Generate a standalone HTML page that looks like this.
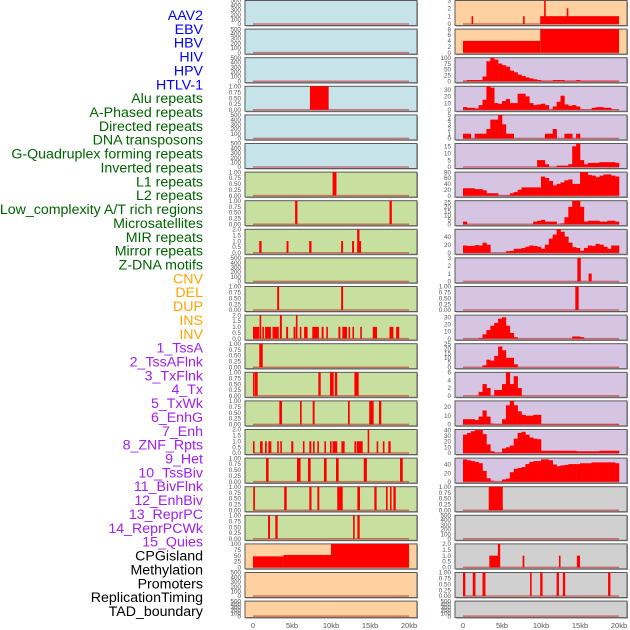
<!DOCTYPE html>
<html><head><meta charset="utf-8"><style>
html,body{margin:0;padding:0;background:#fff;width:630px;height:630px;overflow:hidden}
svg{display:block}
</style></head><body>
<svg id="chart" width="630" height="630" xmlns="http://www.w3.org/2000/svg"></svg>
<script>
// ---- labels ----
const trackLabels=["AAV2","EBV","HBV","HIV","HPV","HTLV-1","Alu repeats","A-Phased repeats","Directed repeats","DNA transposons","G-Quadruplex forming repeats","Inverted repeats","L1 repeats","L2 repeats","Low_complexity A/T rich regions","Microsatellites","MIR repeats","Mirror repeats","Z-DNA motifs","CNV","DEL","DUP","INS","INV","1_TssA","2_TssAFlnk","3_TxFlnk","4_Tx","5_TxWk","6_EnhG","7_Enh","8_ZNF_Rpts","9_Het","10_TssBiv","11_BivFlnk","12_EnhBiv","13_ReprPC","14_ReprPCWk","15_Quies","CPGisland","Methylation","Promoters","ReplicationTiming","TAD_boundary"];
const labelGroups=[0,0,0,0,0,0,1,1,1,1,1,1,1,1,1,1,1,1,1,2,2,2,2,2,3,3,3,3,3,3,3,3,3,3,3,3,3,3,3,4,4,4,4,4];
const xTickLabels=["0","5kb","10kb","15kb","20kb"];
const xTickValues=[0,5,10,15,20];
// ---- panel axes ----
const T500=[0,100,200,300,400,500],T1=[0,0.25,0.5,0.75,1],T2=[0,0.5,1,1.5,2];
const leftTicks=[T500,T500,T500,T1,T500,T500,T1,T1,T2,T500,T1,T2,T1,T1,T1,T2,T1,T1,T1,[0,25,50,75,100],T500,T500];
const leftMax=[500,500,500,1,500,500,1,1,2,500,1,2,1,1,1,2,1,1,1,100,500,500];
const rightTicks=[[0,1,2,3],[0,2,4,6,8],[0,25,50,75,100],[0,10,20,30],[0,1,2,3,4,5],[0,5,10,15],[0,20,40,60,80],[0,5,10,15,20,25],[0,20,40],[0,1,2,3],T1,[0,10,20,30],[0,5,10,15,20,25],[0,2,4,6],[0,10,20],[0,10,20,30,40],[0,20,40],T1,T500,T2,T1,T500];
const rightMax=[3,8,100,35,5,17,80,27,58,3,1,33,25,6,27,41,55,1,500,2,1,500];
// ---- left series: segments [startKb,endKb,value] ----
const leftSegs=[
[],[],[],
[[7.3,9.7,1]],
[],[],
[[10.2,10.7,1]],
[[5.4,5.7,1],[17.5,17.8,1]],
[[0.8,1.1,1],[4.3,4.55,1],[7.2,7.5,1],[11.3,11.55,1],[12.7,12.95,1],[13.35,13.65,2],[13.65,13.8,1]],
[],
[[3.1,3.35,1],[11.3,11.55,1]],
[[0,0.8,1],[0.85,1.05,2],[1.2,1.4,1],[1.55,2.3,1],[2.5,3.3,1],[3.45,3.7,2],[4.25,4.5,1],[5.2,5.45,1],[5.5,5.7,2],[6.0,6.2,1],[6.55,7.0,1],[7.6,8.45,1],[8.8,9.05,1],[9.4,9.6,1],[10.95,11.2,1],[11.45,12.05,1],[12.25,12.45,1],[12.75,12.95,1],[13.75,13.95,1],[15.35,15.9,1],[17.5,18.0,1],[18.35,18.75,1]],
[[0.8,1.25,1]],
[[0,0.15,1],[0.25,0.6,1],[8.38,8.68,1],[9.87,10.34,1],[10.5,10.8,1],[13.0,13.55,1]],
[[3.38,3.72,1],[6.03,6.24,1],[7.65,7.9,1],[12.18,12.4,1],[14.9,15.47,1],[16.15,16.45,1]],
[[0,0.2,1],[0.9,1.24,1],[1.54,1.76,1],[1.97,2.35,1],[3.1,3.3,1],[3.5,3.7,1],[4.9,5.17,1],[6.4,6.6,1],[7.22,7.48,1],[7.7,7.9,1],[8.25,8.45,1],[9.15,9.35,1],[9.87,9.96,1],[10.2,10.8,1],[11.33,11.75,1],[13.0,13.2,1],[13.29,14.06,1],[14.7,14.9,2],[15.85,16.05,1],[16.65,16.85,1],[17.35,17.65,1]],
[[1.67,2.0,1],[5.64,6.1,1],[7.05,7.39,1],[9.1,9.44,1],[10.64,10.98,1],[14.2,14.6,1],[18.85,19.2,1]],
[[0.03,0.25,1],[4.0,4.32,1],[7.22,7.5,1],[8.25,8.5,1],[10.8,11.5,1],[13.38,13.72,1],[15.56,15.85,1],[17.05,17.26,1],[17.56,17.74,1],[18.0,18.3,1]],
[[1.93,2.18,1],[2.86,3.16,1],[12.83,13.04,1],[13.38,13.68,1]],
[[0,3.9,47],[3.9,10,53],[10,20,100]],
[],[]
];
// ---- right series: 0.5kb bins (arrays of 40) or segments ----
const rightSegs=[
[[1.1,1.3,1],[7.7,7.9,1],[9.9,20,1],[10.4,10.6,3],[13.3,13.5,2]],
[[0,9.9,4],[9.9,20,8]],
null,null,null,null,null,null,null,
[[14.66,15.1,3],[16.1,16.5,1]],
[[14.4,14.83,1]],
null,null,null,null,null,null,
[[3.3,5.1,1]],
[],
[[3.37,4.5,1],[4.47,4.77,2],[7.64,7.86,1],[12.3,12.5,1],[14.6,15.0,1]],
[[0,0.3,1],[1.25,1.6,1],[2.5,2.88,1],[8.6,8.8,1],[9.9,10.2,1],[12.0,12.3,1],[12.8,13.1,1],[18.6,18.9,1]],
[]
];
const hivBins=[2,5,5,5,5,20,85,100,92,75,68,62,45,38,28,22,16,12,8,5,2,2,2,5,5,5,2,2,2,5,2,2,2,2,2,2,2,2,2,2];
const hpvBins=[4,3,3,2,7,15,35,33,10,9,13,16,10,10,24,24,20,10,7,8,9,7,0.5,5,12,21,8,6,7,5,0.5,0.5,0.5,3,4,4,3,3,0.5,0.5];
const dirBins=[1,1,0,1,1,1,2,4,4,5,3,1,1,0,0,0,0,0,0,0,0,1,1,2,0,0,1,1,0,1,0,0,0,0,0,0,0,0,0,0];
const gquadBins=[0,0,0,0,0,0,0,0,0,0,0,0,0,0,0,0,0,0,0,5,5,2,0,0,1,1,1,2,15,17,5,2,3,3,3,3.5,3.5,3.5,3.5,3];
const l1Bins=[25,25,25,22,22,18,8,8,8,1,1,1,8,12,20,28,28,28,28,28,65,60,50,35,40,45,52,55,40,40,80,80,70,68,63,68,72,72,68,65];
const lowcBins=[3,0,0,0,0,0,0,0,0,0,0,0,0,0,0,0,0,0,3,4,5,3,3,3,0,1,8,20,27,27,20,3,4,4,4,3,3,4,4,3];
const mirBins=[18,17,17,19,18,25,20,0,0,0,0,4,5,10,10,12,15,18,17,15,10,20,35,45,58,52,40,25,14,12,5,12,18,17,22,20,15,10,18,18];
const insBins=[0,0,0,0,1,6,12,18,22,28,30,18,8,2,0,0,0,0,0,0,0,0,0,0,0,0,0,0,3,3,2,0,0,0,0,0,0,0,0,0];
const tssaBins=[0,0,0,0,0,2,8,7,12,22,18,10,10,3,0,0,0,0,0,0,0,0,0,0,0,0,0,0,0,0,0,0,0,0,0,0,0,0,0,0];
const txflnkBins=[0,0,0,0,1,3,2,0,1.5,1.5,3,6,3,5,2,0,0,0,0,0,0,0,0,0,0,0,0,0,0,0,0,0,0,0,0,0,0,0,0,0];
const txwkBins=[6,6,6,5,9,16,9,1,0.5,0.5,6,22,27,22,15,11,10,10,11,11,0.5,0.5,0.5,0.5,0.5,0.5,0.5,0.5,0.5,0.5,0.5,0.5,0.5,0.5,0.5,0.5,0.5,0.5,0.5,0.5];
const enhgBins=[32,35,38,40,40,33,15,3,1,1,8,10,13,25,35,37,32,27,25,24,4,4,4,4,4,4,4,4,4,3,3,3,3,3,3,4,4,4,4,4];
const enhBins=[52,50,48,46,43,25,8,2,0.5,0.5,5,7,22,30,32,34,41,46,48,48,52,52,50,40,36,38,39,41,41,41,43,43,43,45,45,45,45,45,45,43];
const rightBins=[null,null,hivBins,hpvBins,dirBins,gquadBins,l1Bins,lowcBins,mirBins,null,null,insBins,tssaBins,txflnkBins,txwkBins,enhgBins,enhBins,null,null,null,null,null];
// ---- colors ----
const BLUE="#c7e3ea",GREEN="#c8e09f",PEACH="#ffd1a0",LAV="#d6c5e2",GREY="#d0d0d0";
const leftBg=[BLUE,BLUE,BLUE,BLUE,BLUE,BLUE,GREEN,GREEN,GREEN,GREEN,GREEN,GREEN,GREEN,GREEN,GREEN,GREEN,GREEN,GREEN,GREEN,PEACH,PEACH,PEACH];
const rightBg=[PEACH,PEACH,LAV,LAV,LAV,LAV,LAV,LAV,LAV,LAV,LAV,LAV,LAV,LAV,LAV,LAV,LAV,GREY,GREY,GREY,GREY,GREY];
const groupColors=["#0000ff","#006400","#ffa500","#a020f0","#000000"];

const svg=document.getElementById('chart');
const NS="http://www.w3.org/2000/svg";
function mk(tag,attrs,parent){const e=document.createElementNS(NS,tag);for(const k in attrs)e.setAttribute(k,attrs[k]);(parent||svg).appendChild(e);return e;}

// labels
trackLabels.forEach((t,i)=>{
  const e=mk('text',{x:203,y:15+i*13.86+5,'text-anchor':'end','font-family':'Liberation Sans, sans-serif','font-size':'14.2',fill:groupColors[labelGroups[i]]});
  
  
  e.textContent=t;
});

const PL=[245,455], PW=172, X0=[253,463], KB=7.8;
const xs=(side,kb)=>X0[side]+kb*KB;

function panel(side,i){
  const top=0.5+i*28.6, h=(i===21)?16.5:25;
  const g=mk('g',{});
  
  
  const bg=side?rightBg[i]:leftBg[i];
  mk('rect',{x:PL[side]+1,y:top+1,width:PW,height:h,fill:'#999'},g);
  mk('rect',{x:PL[side],y:top,width:PW,height:h,fill:bg,stroke:'#5a5a5a','stroke-width':1},g);
  const ymax=side?rightMax[i]:leftMax[i];
  const y0=top+h-1.5, ph=h-1.5;
  const ys=v=>y0-Math.min(v,ymax)/ymax*ph;
  const bl=mk('line',{x1:xs(side,0),x2:xs(side,20),y1:y0,y2:y0,stroke:'rgba(190,30,30,0.55)','stroke-width':1.5},g);
  
  
  const bins=side?rightBins[i]:null;
  if(bins){
    bins.forEach((v,k)=>{
      if(v<=0)return;
      const r=mk('rect',{x:xs(side,k*0.5),y:ys(v),width:KB*0.5+0.3,height:y0-ys(v),fill:'#ff0000'},g);
      
      
    });
  }
  const segs=side?rightSegs[i]:leftSegs[i];
  if(segs){
    segs.forEach(s=>{
      const x1=xs(side,s[0]), w=Math.max(1.6,(s[1]-s[0])*KB);
      const r=mk('rect',{x:x1,y:ys(s[2]),width:w,height:y0-ys(s[2]),fill:'#ff0000'},g);
      
      
    });
  }
  const ticks=side?rightTicks[i]:leftTicks[i];
  const tx=side?451:241;
  ticks.forEach(v=>{
    const lab=(ticks===T1)?v.toFixed(2):(ticks===T2?v.toFixed(1):String(v));
    const t=mk('text',{x:tx,y:ys(v)+2.2,'text-anchor':'end','font-family':'Liberation Sans, sans-serif','font-size':'6.3',fill:'#555'},g);
    
    
    t.textContent=lab;
  });
}
for(let i=0;i<22;i++){panel(0,i);panel(1,i);}

[0,1].forEach(side=>{
  xTickValues.forEach((v,k)=>{
    const t=mk('text',{x:xs(side,v),y:628,'text-anchor':'middle','font-family':'Liberation Sans, sans-serif','font-size':'7.5',fill:'#555'});
    
    
    t.textContent=xTickLabels[k];
  });
});
</script>
</body></html>
